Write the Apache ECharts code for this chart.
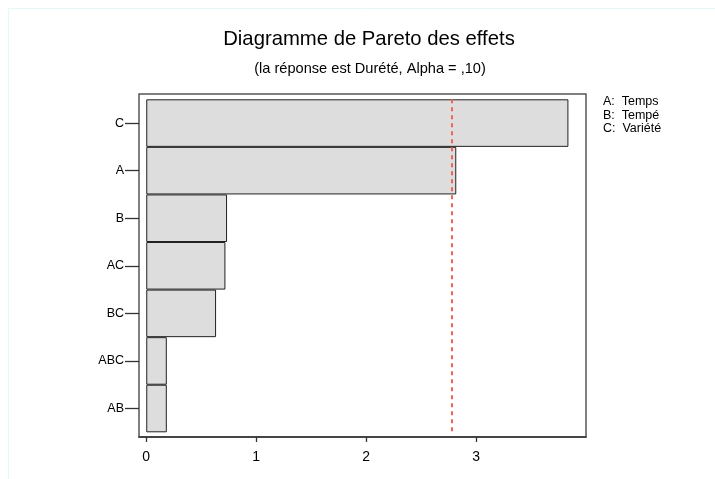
<!DOCTYPE html>
<html>
<head>
<meta charset="utf-8">
<script src="https://cdn.jsdelivr.net/npm/echarts@6/dist/echarts.min.js"></script>
<style>html,body{margin:0;padding:0;background:#fff}#c{width:715px;height:479px}</style>
</head>
<body>
<div id="c"></div>
<script>
const categories = ['C', 'A', 'B', 'AC', 'BC', 'ABC', 'AB'];
const effects = [3.84, 2.82, 0.735, 0.72, 0.635, 0.187, 0.187];
const criticalValue = 2.78;
const xTicks = [0, 1, 2, 3];
const xRange = [-0.066, 4.0];
const titleText = 'Diagramme de Pareto des effets';
const subtitleText = '(la réponse est Durété, Alpha = ,10)';
const factorLegend = ['A:  Temps', 'B:  Tempé', 'C:  Variété'];

const FONT = '"Liberation Sans", Arial, Helvetica, sans-serif';
const chart = echarts.init(document.getElementById('c'), null, {renderer: 'canvas'});
chart.setOption({
  animation: false,
  backgroundColor: '#fff',
  title: [
    {text: titleText, left: 369, top: 29, padding: 0, textAlign: 'center',
     textStyle: {fontFamily: FONT, fontSize: 20.3, fontWeight: 'normal', color: '#000'}},
    {text: subtitleText, left: 370, top: 61, padding: 0, textAlign: 'center',
     textStyle: {fontFamily: FONT, fontSize: 14.6, fontWeight: 'normal', color: '#000'}},
    {text: factorLegend.join('\n'), left: 603, top: 95, padding: 0,
     textStyle: {fontFamily: FONT, fontSize: 12.5, fontWeight: 'normal', color: '#000', lineHeight: 13.5}}
  ],
  graphic: [
    {type: 'rect', shape: {x: 8.5, y: 8.5, width: 720, height: 480}, silent: true,
     style: {fill: 'none', stroke: '#e6f7f7', lineWidth: 1}}
  ],
  grid: [
    {left: 139, top: 94, width: 447, height: 343, show: true, borderColor: '#555', borderWidth: 1.5, containLabel: false},
    {left: 139, top: 99.3, width: 447, height: 333, containLabel: false}
  ],
  xAxis: [
    {type: 'value', gridIndex: 0, min: xRange[0], max: xRange[1],
     axisLine: {show: true, onZero: false, lineStyle: {color: '#333', width: 1.5}},
     axisTick: {show: true, length: 5, lineStyle: {color: '#333', width: 1.3}, customValues: xTicks},
     axisLabel: {show: true, fontFamily: FONT, fontSize: 14, color: '#000', margin: 13, customValues: xTicks},
     splitLine: {show: false}},
    {type: 'value', gridIndex: 1, min: xRange[0], max: xRange[1], show: false}
  ],
  yAxis: [
    {type: 'value', gridIndex: 0, show: false},
    {type: 'category', gridIndex: 1, data: categories, inverse: true,
     axisLine: {show: false, onZero: false},
     axisTick: {show: true, alignWithLabel: true, length: 14, lineStyle: {color: '#333', width: 1.3}},
     axisLabel: {fontFamily: FONT, fontSize: 12.5, color: '#000', margin: 15},
     splitLine: {show: false}}
  ],
  series: [
    {type: 'bar', xAxisIndex: 1, yAxisIndex: 1, data: effects, barWidth: '100%', barCategoryGap: 0,
     itemStyle: {color: '#dddddd', borderColor: '#222', borderWidth: 1},
     markLine: {silent: true, symbol: 'none', label: {show: false},
       lineStyle: {color: '#f26060', type: [4, 4], width: 2},
       data: [{xAxis: criticalValue}]}}
  ]
});
</script>
</body>
</html>
